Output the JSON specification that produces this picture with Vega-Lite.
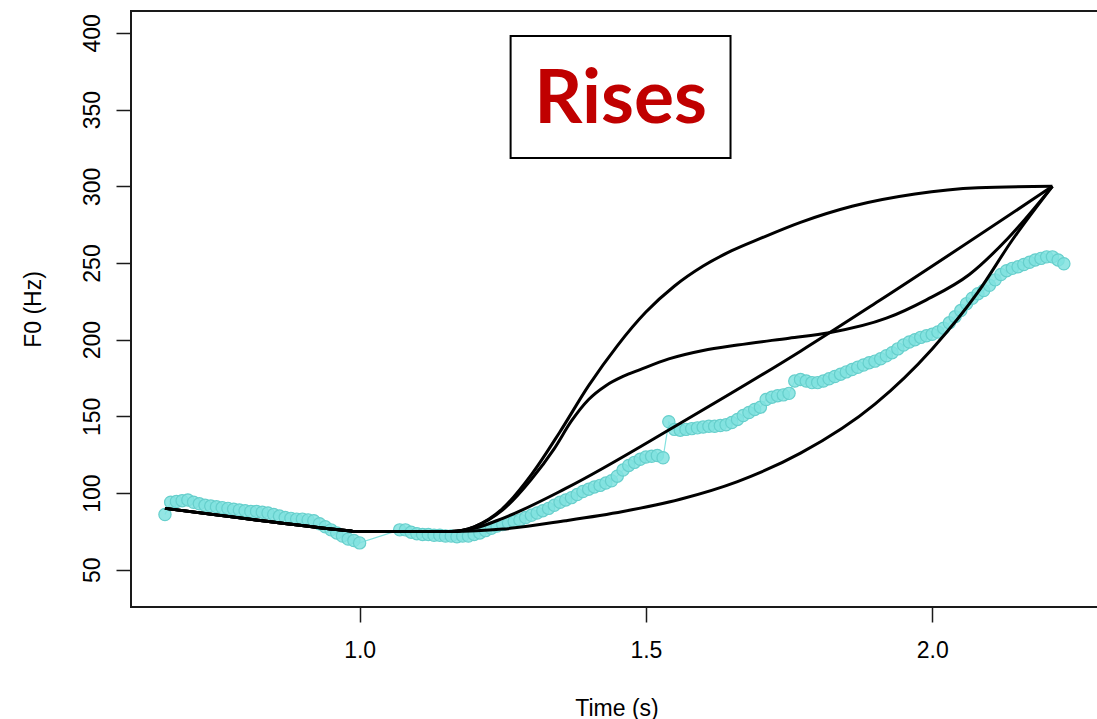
{
  "$schema": "https://vega.github.io/schema/vega-lite/v6.json",
  "width": 971,
  "height": 596,
  "autosize": {"type": "none"},
  "padding": {"left": 131, "top": 11, "right": 0, "bottom": 112},
  "background": "white",
  "config": {
    "view": {"stroke": "#1a1a1a", "strokeWidth": 2},
    "font": "Liberation Sans",
    "axis": {
      "domain": false,
      "grid": false,
      "tickColor": "#1a1a1a",
      "tickWidth": 1.5,
      "tickSize": 15,
      "labelColor": "#000000",
      "labelFont": "Liberation Sans",
      "labelFontSize": 23,
      "titleColor": "#000000",
      "titleFont": "Liberation Sans",
      "titleFontSize": 23,
      "titleFontWeight": "normal"
    }
  },
  "datasets": {
    "f0": [
      {"t": 0.66, "hz": 86}, {"t": 0.67, "hz": 94}, {"t": 0.68, "hz": 94.5}, {"t": 0.69, "hz": 95},
      {"t": 0.70, "hz": 95.5}, {"t": 0.71, "hz": 94}, {"t": 0.72, "hz": 93}, {"t": 0.73, "hz": 92},
      {"t": 0.74, "hz": 91.5}, {"t": 0.75, "hz": 91}, {"t": 0.76, "hz": 90.5}, {"t": 0.77, "hz": 90},
      {"t": 0.78, "hz": 89.5}, {"t": 0.79, "hz": 89}, {"t": 0.80, "hz": 88.5}, {"t": 0.81, "hz": 88},
      {"t": 0.82, "hz": 88}, {"t": 0.83, "hz": 87.5}, {"t": 0.84, "hz": 87}, {"t": 0.85, "hz": 86},
      {"t": 0.86, "hz": 85}, {"t": 0.87, "hz": 84}, {"t": 0.88, "hz": 83.5}, {"t": 0.89, "hz": 83},
      {"t": 0.90, "hz": 83}, {"t": 0.91, "hz": 82.5}, {"t": 0.92, "hz": 82}, {"t": 0.93, "hz": 80},
      {"t": 0.94, "hz": 78}, {"t": 0.95, "hz": 76}, {"t": 0.96, "hz": 74}, {"t": 0.97, "hz": 72},
      {"t": 0.98, "hz": 70}, {"t": 0.99, "hz": 69}, {"t": 1.00, "hz": 67.5},
      {"t": 1.07, "hz": 76}, {"t": 1.08, "hz": 76}, {"t": 1.09, "hz": 74.5}, {"t": 1.10, "hz": 73.5},
      {"t": 1.11, "hz": 73}, {"t": 1.12, "hz": 73}, {"t": 1.13, "hz": 72.5}, {"t": 1.14, "hz": 72.5},
      {"t": 1.15, "hz": 72}, {"t": 1.16, "hz": 72}, {"t": 1.17, "hz": 71.5}, {"t": 1.18, "hz": 72},
      {"t": 1.19, "hz": 72}, {"t": 1.20, "hz": 73}, {"t": 1.21, "hz": 74}, {"t": 1.22, "hz": 75.5},
      {"t": 1.23, "hz": 77}, {"t": 1.24, "hz": 78.5}, {"t": 1.25, "hz": 79.5}, {"t": 1.26, "hz": 80.5},
      {"t": 1.27, "hz": 81.5}, {"t": 1.28, "hz": 82.5}, {"t": 1.29, "hz": 84}, {"t": 1.30, "hz": 85.5},
      {"t": 1.31, "hz": 87}, {"t": 1.32, "hz": 88.5}, {"t": 1.33, "hz": 90}, {"t": 1.34, "hz": 92},
      {"t": 1.35, "hz": 94}, {"t": 1.36, "hz": 95.5}, {"t": 1.37, "hz": 97}, {"t": 1.38, "hz": 99},
      {"t": 1.39, "hz": 101}, {"t": 1.40, "hz": 102.5}, {"t": 1.41, "hz": 104}, {"t": 1.42, "hz": 105},
      {"t": 1.43, "hz": 106.5}, {"t": 1.44, "hz": 108}, {"t": 1.45, "hz": 111}, {"t": 1.46, "hz": 115},
      {"t": 1.47, "hz": 118}, {"t": 1.48, "hz": 120}, {"t": 1.49, "hz": 122}, {"t": 1.50, "hz": 123.5},
      {"t": 1.51, "hz": 124}, {"t": 1.52, "hz": 124.5}, {"t": 1.53, "hz": 123},
      {"t": 1.54, "hz": 146.5}, {"t": 1.55, "hz": 141.5}, {"t": 1.56, "hz": 141}, {"t": 1.57, "hz": 141.5},
      {"t": 1.58, "hz": 142}, {"t": 1.59, "hz": 142.5}, {"t": 1.60, "hz": 143}, {"t": 1.61, "hz": 143.5},
      {"t": 1.62, "hz": 143.5}, {"t": 1.63, "hz": 144}, {"t": 1.64, "hz": 144.5}, {"t": 1.65, "hz": 146},
      {"t": 1.66, "hz": 148}, {"t": 1.67, "hz": 150.5}, {"t": 1.68, "hz": 152.5}, {"t": 1.69, "hz": 154.5},
      {"t": 1.70, "hz": 156}, {"t": 1.71, "hz": 161}, {"t": 1.72, "hz": 162.5}, {"t": 1.73, "hz": 163.5},
      {"t": 1.74, "hz": 164}, {"t": 1.75, "hz": 165}, {"t": 1.76, "hz": 173}, {"t": 1.77, "hz": 174},
      {"t": 1.78, "hz": 173}, {"t": 1.79, "hz": 172}, {"t": 1.80, "hz": 172}, {"t": 1.81, "hz": 173},
      {"t": 1.82, "hz": 174.5}, {"t": 1.83, "hz": 176}, {"t": 1.84, "hz": 177.5}, {"t": 1.85, "hz": 179},
      {"t": 1.86, "hz": 180.5}, {"t": 1.87, "hz": 182}, {"t": 1.88, "hz": 183.5}, {"t": 1.89, "hz": 185},
      {"t": 1.90, "hz": 186}, {"t": 1.91, "hz": 187.5}, {"t": 1.92, "hz": 189.5}, {"t": 1.93, "hz": 191.5},
      {"t": 1.94, "hz": 194}, {"t": 1.95, "hz": 196.5}, {"t": 1.96, "hz": 198.5}, {"t": 1.97, "hz": 200},
      {"t": 1.98, "hz": 201.5}, {"t": 1.99, "hz": 202.5}, {"t": 2.00, "hz": 203.5}, {"t": 2.01, "hz": 205},
      {"t": 2.02, "hz": 207.5}, {"t": 2.03, "hz": 211}, {"t": 2.04, "hz": 215}, {"t": 2.05, "hz": 219},
      {"t": 2.06, "hz": 223.5}, {"t": 2.07, "hz": 227}, {"t": 2.08, "hz": 230}, {"t": 2.09, "hz": 232},
      {"t": 2.10, "hz": 235.5}, {"t": 2.11, "hz": 239}, {"t": 2.12, "hz": 242.5}, {"t": 2.13, "hz": 245},
      {"t": 2.14, "hz": 246.5}, {"t": 2.15, "hz": 247.5}, {"t": 2.16, "hz": 249}, {"t": 2.17, "hz": 250.5},
      {"t": 2.18, "hz": 252}, {"t": 2.19, "hz": 253}, {"t": 2.20, "hz": 254}, {"t": 2.21, "hz": 254},
      {"t": 2.22, "hz": 252}, {"t": 2.23, "hz": 249.5}
    ],
    "rises": [
      {"shape": "concave", "t": 0.66, "hz": 90}, {"shape": "concave", "t": 0.985, "hz": 75.2},
      {"shape": "concave", "t": 0.99, "hz": 75}, {"shape": "concave", "t": 1.16, "hz": 75},
      {"shape": "concave", "t": 1.20, "hz": 78}, {"shape": "concave", "t": 1.25, "hz": 90},
      {"shape": "concave", "t": 1.30, "hz": 112}, {"shape": "concave", "t": 1.35, "hz": 140},
      {"shape": "concave", "t": 1.40, "hz": 170}, {"shape": "concave", "t": 1.45, "hz": 196},
      {"shape": "concave", "t": 1.50, "hz": 218}, {"shape": "concave", "t": 1.55, "hz": 235},
      {"shape": "concave", "t": 1.60, "hz": 248}, {"shape": "concave", "t": 1.65, "hz": 258},
      {"shape": "concave", "t": 1.70, "hz": 266}, {"shape": "concave", "t": 1.77, "hz": 276.5},
      {"shape": "concave", "t": 1.86, "hz": 287}, {"shape": "concave", "t": 1.97, "hz": 295},
      {"shape": "concave", "t": 2.08, "hz": 299}, {"shape": "concave", "t": 2.21, "hz": 300},

      {"shape": "shoulder", "t": 0.66, "hz": 90}, {"shape": "shoulder", "t": 0.985, "hz": 75.2},
      {"shape": "shoulder", "t": 0.99, "hz": 75}, {"shape": "shoulder", "t": 1.16, "hz": 75},
      {"shape": "shoulder", "t": 1.20, "hz": 78}, {"shape": "shoulder", "t": 1.25, "hz": 89},
      {"shape": "shoulder", "t": 1.30, "hz": 109}, {"shape": "shoulder", "t": 1.34, "hz": 129},
      {"shape": "shoulder", "t": 1.37, "hz": 147}, {"shape": "shoulder", "t": 1.40, "hz": 161},
      {"shape": "shoulder", "t": 1.43, "hz": 170}, {"shape": "shoulder", "t": 1.46, "hz": 176},
      {"shape": "shoulder", "t": 1.49, "hz": 180.5}, {"shape": "shoulder", "t": 1.54, "hz": 187.5},
      {"shape": "shoulder", "t": 1.60, "hz": 193}, {"shape": "shoulder", "t": 1.66, "hz": 196.5},
      {"shape": "shoulder", "t": 1.75, "hz": 201}, {"shape": "shoulder", "t": 1.82, "hz": 204.5},
      {"shape": "shoulder", "t": 1.92, "hz": 214}, {"shape": "shoulder", "t": 1.99, "hz": 226},
      {"shape": "shoulder", "t": 2.065, "hz": 242.5}, {"shape": "shoulder", "t": 2.132, "hz": 266},
      {"shape": "shoulder", "t": 2.21, "hz": 300},

      {"shape": "linear", "t": 0.66, "hz": 90}, {"shape": "linear", "t": 0.985, "hz": 75.2},
      {"shape": "linear", "t": 0.99, "hz": 75}, {"shape": "linear", "t": 1.16, "hz": 75},
      {"shape": "linear", "t": 1.20, "hz": 77}, {"shape": "linear", "t": 1.25, "hz": 83.5},
      {"shape": "linear", "t": 1.36, "hz": 103}, {"shape": "linear", "t": 1.56, "hz": 145.5},
      {"shape": "linear", "t": 1.77, "hz": 192.5}, {"shape": "linear", "t": 1.91, "hz": 226},
      {"shape": "linear", "t": 2.21, "hz": 300},

      {"shape": "convex", "t": 0.66, "hz": 90}, {"shape": "convex", "t": 0.985, "hz": 75.2},
      {"shape": "convex", "t": 0.99, "hz": 75}, {"shape": "convex", "t": 1.16, "hz": 75},
      {"shape": "convex", "t": 1.25, "hz": 76.5}, {"shape": "convex", "t": 1.36, "hz": 82},
      {"shape": "convex", "t": 1.46, "hz": 88}, {"shape": "convex", "t": 1.56, "hz": 96},
      {"shape": "convex", "t": 1.66, "hz": 107.5}, {"shape": "convex", "t": 1.77, "hz": 126},
      {"shape": "convex", "t": 1.90, "hz": 158}, {"shape": "convex", "t": 2.00, "hz": 194},
      {"shape": "convex", "t": 2.08, "hz": 231}, {"shape": "convex", "t": 2.14, "hz": 265},
      {"shape": "convex", "t": 2.21, "hz": 300}
    ],
    "label": [
      {"text": "Rises", "t0": 1.2637, "t1": 1.6478, "f0": 318.5, "f1": 398.0, "tm": 1.4557, "fb": 341.1}
    ]
  },
  "layer": [
    {
      "data": {"name": "f0"},
      "mark": {"type": "line", "color": "#84e2e0", "strokeWidth": 1.2},
      "encoding": {
        "x": {
          "field": "t", "type": "quantitative",
          "scale": {"domain": [0.6007, 2.2966], "nice": false, "zero": false},
          "axis": {"values": [1.0, 1.5, 2.0], "format": ".1f", "title": "Time (s)", "labelPadding": 17, "titlePadding": 35}
        },
        "y": {
          "field": "hz", "type": "quantitative",
          "scale": {"domain": [25.7, 414.3], "nice": false, "zero": false},
          "axis": {
            "values": [50, 100, 150, 200, 250, 300, 350, 400],
            "title": "F0 (Hz)",
            "labelAngle": 270, "labelAlign": "center", "labelBaseline": "bottom",
            "labelPadding": 12, "titlePadding": 36
          }
        }
      }
    },
    {
      "data": {"name": "f0"},
      "mark": {"type": "point", "shape": "circle", "filled": false, "fill": "#80e2df", "fillOpacity": 0.85, "stroke": "#66cfcc", "strokeWidth": 1.2, "size": 150},
      "encoding": {
        "x": {"field": "t", "type": "quantitative"},
        "y": {"field": "hz", "type": "quantitative"}
      }
    },
    {
      "data": {"name": "rises"},
      "mark": {"type": "line", "color": "#000000", "strokeWidth": 3, "interpolate": "monotone"},
      "encoding": {
        "x": {"field": "t", "type": "quantitative"},
        "y": {"field": "hz", "type": "quantitative"},
        "detail": {"field": "shape", "type": "nominal"},
        "order": {"field": "t", "type": "quantitative"}
      }
    },
    {
      "data": {"name": "label"},
      "mark": {"type": "rect", "fill": "white", "stroke": "#000000", "strokeWidth": 2},
      "encoding": {
        "x": {"field": "t0", "type": "quantitative"},
        "x2": {"field": "t1"},
        "y": {"field": "f0", "type": "quantitative"},
        "y2": {"field": "f1"}
      }
    },
    {
      "data": {"name": "label"},
      "mark": {"type": "text", "font": "Lato", "fontWeight": "bold", "fontSize": 75, "color": "#c00000", "align": "center", "baseline": "alphabetic"},
      "encoding": {
        "x": {"field": "tm", "type": "quantitative"},
        "y": {"field": "fb", "type": "quantitative"},
        "text": {"field": "text"}
      }
    }
  ]
}
